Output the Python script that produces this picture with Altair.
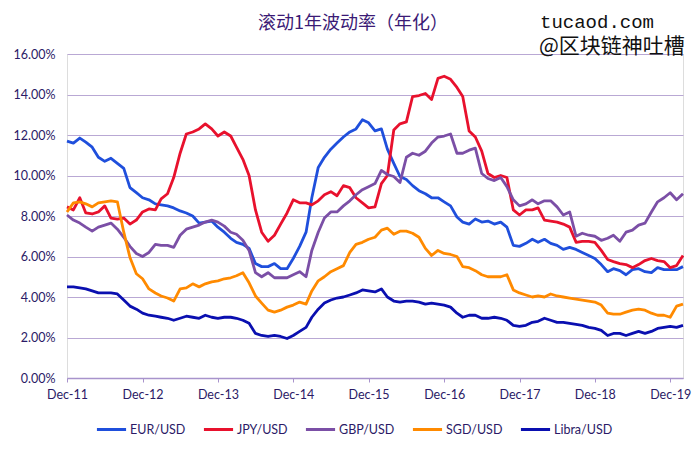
import altair as alt
import pandas as pd

series = ["EUR/USD", "JPY/USD", "GBP/USD", "SGD/USD", "Libra/USD"]
colors = ["#1f4fdc", "#e8112d", "#7b4fa6", "#ff8a00", "#0a0fb0"]
start = "2011-12-01"  # monthly readings, Dec 2011 .. Feb 2020

eur = [11.7, 11.6, 11.85, 11.65, 11.4, 10.9, 10.7, 10.85, 10.6, 10.35,
       9.4, 9.15, 8.9, 8.8, 8.6, 8.55, 8.5, 8.4, 8.25, 8.15,
       8.0, 7.65, 7.7, 7.75, 7.45, 7.2, 6.9, 6.7, 6.6, 6.4,
       5.65, 5.5, 5.5, 5.65, 5.4, 5.4, 5.9, 6.5, 7.2, 8.9,
       10.4, 10.9, 11.3, 11.6, 11.9, 12.15, 12.3, 12.75, 12.6, 12.2,
       12.3, 11.3, 10.6, 9.95, 9.8, 9.5, 9.25, 9.1, 8.9, 8.9,
       8.7, 8.5, 7.95, 7.7, 7.6, 7.85, 7.7, 7.75, 7.6, 7.7,
       7.45, 6.55, 6.5, 6.65, 6.85, 6.7, 6.85, 6.65, 6.55, 6.35,
       6.45, 6.35, 6.2, 6.05, 5.9, 5.6, 5.25, 5.4, 5.3, 5.1,
       5.35, 5.4, 5.25, 5.2, 5.45, 5.35, 5.35, 5.35, 5.5]

jpy = [8.45, 8.3, 8.9, 8.15, 8.1, 8.2, 8.5, 7.9, 7.85, 7.9,
       7.6, 7.8, 8.2, 8.35, 8.3, 8.85, 9.1, 9.9, 11.1, 12.05,
       12.15, 12.3, 12.55, 12.3, 11.95, 12.15, 11.95, 11.4, 10.8, 10.0,
       8.3, 7.2, 6.75, 7.05, 7.6, 8.15, 8.8, 8.65, 8.65, 8.55,
       8.75, 9.05, 9.2, 9.0, 9.5, 9.4, 8.9, 8.65, 8.4, 8.45,
       9.6, 10.0, 12.25, 12.55, 12.65, 13.9, 13.95, 14.05, 13.75, 14.8,
       14.9, 14.75, 14.35, 13.9, 12.2, 11.9, 11.2, 10.1, 9.9, 10.0,
       9.9, 8.3, 8.05, 8.3, 8.3, 8.4, 7.8, 7.75, 7.7, 7.6,
       7.45, 6.7, 6.75, 6.75, 6.7, 6.3, 5.85, 5.75, 5.65, 5.6,
       5.45, 5.6, 5.8, 5.9, 5.8, 5.75, 5.45, 5.55, 6.05]

gbp = [8.05, 7.8, 7.65, 7.45, 7.25, 7.45, 7.55, 7.65, 7.35, 6.95,
       6.5, 6.15, 6.0, 6.2, 6.6, 6.55, 6.55, 6.45, 7.05, 7.35,
       7.45, 7.55, 7.7, 7.8, 7.7, 7.5, 7.2, 7.1, 6.8, 6.3,
       5.2, 5.0, 5.2, 4.95, 4.95, 4.95, 5.1, 5.25, 5.0, 6.3,
       7.2, 7.9, 8.2, 8.2, 8.5, 8.75, 9.05, 9.3, 9.45, 9.6,
       10.25, 10.05, 9.95, 9.65, 10.9, 11.1, 11.0, 11.2, 11.6, 11.9,
       11.95, 12.05, 11.1, 11.1, 11.25, 11.35, 10.1, 9.85, 9.75, 9.9,
       9.45, 8.8, 8.5, 8.6, 8.8, 8.6, 8.75, 8.75, 8.45, 8.05,
       8.2, 7.0, 7.15, 7.05, 7.0, 6.8, 6.9, 7.05, 6.75, 7.2,
       7.3, 7.55, 7.65, 8.2, 8.7, 8.9, 9.15, 8.8, 9.1]

sgd = [8.2, 8.65, 8.7, 8.6, 8.45, 8.65, 8.7, 8.75, 8.7, 7.2,
       5.95, 5.15, 4.9, 4.4, 4.2, 4.05, 3.95, 3.8, 4.4, 4.45,
       4.65, 4.5, 4.65, 4.75, 4.8, 4.9, 4.95, 5.05, 5.2, 4.7,
       4.05, 3.7, 3.35, 3.25, 3.35, 3.5, 3.6, 3.75, 3.65, 4.3,
       4.8, 5.0, 5.25, 5.4, 5.55, 6.2, 6.6, 6.7, 6.85, 6.95,
       7.3, 7.4, 7.1, 7.25, 7.25, 7.15, 6.95, 6.4, 6.05, 6.3,
       6.15, 6.1, 6.0, 5.5, 5.45, 5.3, 5.1, 5.0, 5.0, 5.0,
       5.1, 4.35, 4.2, 4.1, 4.0, 4.05, 4.0, 4.15, 4.05, 4.0,
       3.95, 3.9, 3.85, 3.8, 3.75, 3.6, 3.2, 3.15, 3.15, 3.25,
       3.35, 3.4, 3.35, 3.2, 3.1, 3.1, 3.0, 3.55, 3.65]

libra = [4.5, 4.5, 4.45, 4.4, 4.3, 4.2, 4.2, 4.2, 4.15, 3.85,
         3.55, 3.4, 3.2, 3.1, 3.05, 3.0, 2.95, 2.85, 2.95, 3.05,
         3.0, 2.95, 3.1, 3.0, 2.95, 3.0, 3.0, 2.95, 2.85, 2.7,
         2.2, 2.1, 2.05, 2.1, 2.05, 1.95, 2.1, 2.3, 2.5, 3.0,
         3.4, 3.7, 3.85, 3.95, 4.0, 4.1, 4.2, 4.35, 4.3, 4.25,
         4.4, 4.0, 3.8, 3.75, 3.8, 3.8, 3.75, 3.65, 3.7, 3.65,
         3.6, 3.5, 3.2, 3.0, 3.1, 3.1, 2.95, 2.95, 3.0, 2.95,
         2.85, 2.6, 2.55, 2.6, 2.75, 2.8, 2.95, 2.85, 2.75, 2.75,
         2.7, 2.65, 2.6, 2.5, 2.45, 2.35, 2.1, 2.2, 2.2, 2.1,
         2.2, 2.3, 2.2, 2.3, 2.45, 2.5, 2.55, 2.5, 2.6]

y_ticks = [0, 2, 4, 6, 8, 10, 12, 14, 16]
x_tick_years = [2011, 2012, 2013, 2014, 2015, 2016, 2017, 2018, 2019]

title_text = "滚动1年波动率（年化）"
watermark1 = "tucaod.com"
watermark2 = "@区块链神吐槽"

dates = pd.date_range(start, periods=len(eur), freq="MS").strftime("%Y-%m-%d")
rows = []
for name, vals in zip(series, [eur, jpy, gbp, sgd, libra]):
    for d, v in zip(dates, vals):
        rows.append({"date": d, "series": name, "value": v})
df = pd.DataFrame(rows)

label_color = "#2b1a66"
grid_color = "#b9a8d4"
font = "Lato"

lines = alt.Chart(df).mark_line(strokeWidth=2.8, strokeJoin="round").encode(
    x=alt.X(
        "date:T",
        title=None,
        scale=alt.Scale(type="utc", domain=[alt.DateTime(year=2011, month=12, date=1, utc=True),
                                            alt.DateTime(year=2020, month=2, date=1, utc=True)]),
        axis=alt.Axis(
            values=[alt.DateTime(year=y, month=12, date=1, utc=True) for y in x_tick_years],
            labelExpr="utcFormat(datum.value, '%b-%y')", labelOverlap=False, labelFlush=False,
            grid=False,
            domainColor="#a893cc", domainWidth=1.3, tickColor="#a893cc", tickSize=4,
            labelPadding=6, labelFontSize=12.5, labelColor=label_color, labelFont=font,
        ),
    ),
    y=alt.Y(
        "value:Q",
        title=None,
        scale=alt.Scale(domain=[0, 16], nice=False),
        axis=alt.Axis(
            values=y_ticks, labelExpr="format(datum.value, '.2f') + '%'",
            domain=False, ticks=False, gridColor=grid_color, gridWidth=1.2,
            labelPadding=12, labelFontSize=12.5, labelColor=label_color, labelFont=font,
        ),
    ),
    color=alt.Color(
        "series:N",
        scale=alt.Scale(domain=series, range=colors),
        sort=series,
        legend=alt.Legend(
            title=None, orient="none", direction="horizontal",
            legendX=28, legendY=359, gridAlign="none",
            symbolType="stroke", symbolSize=850, symbolStrokeWidth=3,
            labelFontSize=12.5, labelColor=label_color, labelFont=font,
            labelOffset=2, columnPadding=11, padding=0,
        ),
    ),
    detail="series:N",
)

ttl = alt.Chart(pd.DataFrame({"t": [title_text]})).mark_text(
    align="center", baseline="middle", font="Noto Sans CJK SC", fontSize=18, color="#3b1a75"
).encode(text="t:N", x=alt.value(286), y=alt.value(-30.5))

wm = alt.Chart(pd.DataFrame({"t": [watermark1]})).mark_text(
    align="left", baseline="middle", font="Liberation Mono", fontSize=19, color="#111111"
).encode(text="t:N", x=alt.value(473), y=alt.value(-32))

wm2 = alt.Chart(pd.DataFrame({"t": [watermark2]})).mark_text(
    align="left", baseline="middle", font="Noto Sans CJK SC", fontSize=21, color="#111111"
).encode(text="t:N", x=alt.value(472), y=alt.value(-7))

chart = alt.layer(lines, ttl, wm, wm2).properties(
    width=616, height=324,
    autosize=alt.AutoSizeParams(type="none"),
    padding={"left": 59, "top": 46, "right": 9, "bottom": 64},
).configure_view(stroke=None).configure(background="white")

chart.save("out.html", embed_options={"renderer": "svg", "actions": False})
